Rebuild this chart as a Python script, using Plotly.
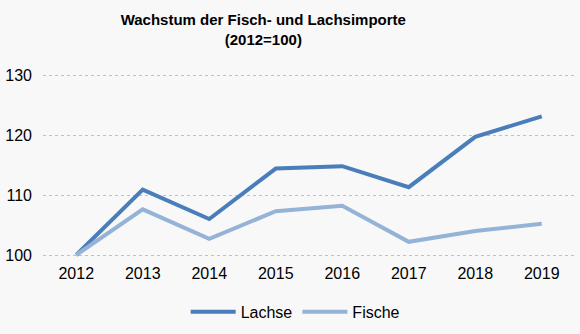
import plotly.graph_objects as go

years = ["2012", "2013", "2014", "2015", "2016", "2017", "2018", "2019"]
lachse = [100, 110.9, 106.0, 114.4, 114.8, 111.3, 119.7, 123.1]
fische = [100, 107.6, 102.7, 107.3, 108.2, 102.2, 104.0, 105.2]
y_ticks = [100, 110, 120, 130]

fig = go.Figure()
fig.add_trace(go.Scatter(x=years, y=lachse, mode="lines", name="Lachse",
                         line=dict(color="#4a7ebb", width=4)))
fig.add_trace(go.Scatter(x=years, y=fische, mode="lines", name="Fische",
                         line=dict(color="#95b3d7", width=4)))

fig.update_layout(
    width=580, height=334,
    paper_bgcolor="#f8f8f8", plot_bgcolor="#f8f8f8",
    margin=dict(l=43, r=5, t=72, b=76),
    font=dict(family="Liberation Sans, Arial", color="#000000"),
    title=dict(text="<b>Wachstum der Fisch- und Lachsimporte<br>(2012=100)</b>",
               x=0.454, xanchor="center", y=0.925, yanchor="top",
               font=dict(size=15)),
    showlegend=True,
    legend=dict(orientation="h", x=0.474, xanchor="center", y=-0.29, yanchor="middle",
                font=dict(size=16), bgcolor="rgba(0,0,0,0)", itemwidth=45),
    xaxis=dict(type="category", range=[-0.5, 7.5], showgrid=False, zeroline=False,
               showline=False, ticks="", tickfont=dict(size=16), ticklabelstandoff=4),
    yaxis=dict(range=[99.5, 130.5], tickvals=y_ticks, showgrid=True,
               gridcolor="#c0c0c0", griddash="dot", gridwidth=1, zeroline=False,
               showline=False, ticks="", tickfont=dict(size=16), ticklabelstandoff=10),
)
fig.write_html("out.html")
